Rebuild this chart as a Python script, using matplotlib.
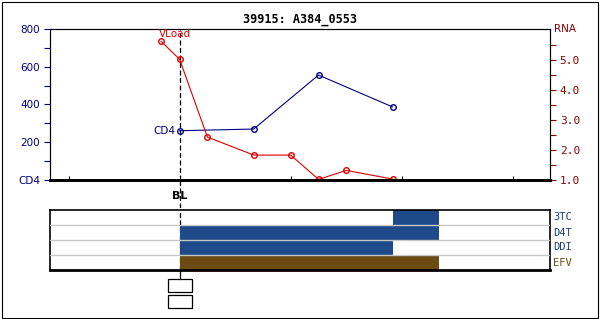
import numpy as np
import matplotlib
matplotlib.use('Agg')
import matplotlib.pyplot as plt
from matplotlib.patches import Rectangle

# data (x in weeks relative to baseline)
cd4_weeks = [0, 8, 15, 23]
cd4_vals = [261, 270, 556, 387]
vl_weeks = [-2, 0, 3, 8, 12, 15, 18, 23]
vl_vals = [5.62, 5.02, 2.43, 1.83, 1.83, 1.02, 1.32, 1.03]

drugs = ['3TC', 'D4T', 'DDI', 'EFV']
drug_start = [23, 0, 0, 0]
drug_stop = [28, 28, 23, 28]
drug_colors = ['#1f4a8a', '#1f4a8a', '#1f4a8a', '#6b4a14']
drug_text = ['#1f3f6f', '#1f3f6f', '#1f3f6f', '#6b4a14']

x_ticks = [-12, 0, 12, 24, 36]
cd4_ticks = [0, 200, 400, 600, 800]
cd4_labels = ['CD4', '200', '400', '600', '800']
rna_ticks = [1.0, 2.0, 3.0, 4.0, 5.0]

W, H = 600, 319
xmin, xmax = -14, 40


def px_axes(left, top, right, bottom):
    return fig.add_axes([left / W, 1 - bottom / H, (right - left) / W, (bottom - top) / H])


fig = plt.figure(figsize=(6, 3.19), dpi=100)
fig.patches.append(Rectangle((1.5 / W, 1.5 / H), (W - 3.5) / W, (H - 3) / H,
                             transform=fig.transFigure, fill=False, ec='black', lw=0.8))

fig.text(300 / W, 1 - 20 / H, '39915: A384_0553', ha='center', va='center',
         family='DejaVu Sans Mono', fontweight='bold', fontsize=8.5)

navy = '#000080'
dred = '#8b0000'
dash = (0, (4, 2))

# main panel
ax = px_axes(50, 29, 550, 180)
ax.plot(cd4_weeks, cd4_vals, color=navy, lw=0.8, marker='o', ms=4, mfc='none', mew=1)
ax.set_xlim(xmin, xmax)
ax.set_ylim(0, 800)
ax.set_yticks(cd4_ticks)
ax.set_yticklabels(cd4_labels)
ax.set_yticks(np.arange(100, 800, 200), minor=True)
ax.tick_params(axis='y', colors=navy, labelsize=7.5, length=4, width=0.8, pad=3)
ax.tick_params(axis='y', which='minor', length=4, width=0.8, colors=navy)
ax.set_xticks(x_ticks)
ax.set_xticklabels([])
ax.tick_params(axis='x', length=3, width=0.8, direction='in')
ax.spines['bottom'].set_linewidth(2)
for s in ['top', 'left', 'right']:
    ax.spines[s].set_linewidth(0.8)
ax.axvline(0, color='black', lw=0.9, ls=dash, zorder=1)
ax.text(cd4_weeks[0] - 0.5, cd4_vals[0], 'CD4', color=navy, fontsize=7.5,
        ha='right', va='center')

ax2 = ax.twinx()
ax2.plot(vl_weeks, vl_vals, color='#dd0000', lw=0.8, marker='o', ms=4, mfc='none', mew=1)
ax2.set_ylim(1.0, 6.03)
ax2.set_yticks(rna_ticks)
ax2.set_yticklabels(['%.1f' % v for v in rna_ticks], family='DejaVu Sans Mono')
ax2.set_yticks(np.arange(1.5, 6.0, 1.0), minor=True)
ax2.tick_params(axis='y', colors=dred, labelsize=8, length=4, width=0.8, pad=3)
ax2.tick_params(axis='y', which='minor', length=4, width=0.8, colors=dred)
ax2.spines['bottom'].set_linewidth(2)
ax2.text(1.008, 1.0, 'RNA', transform=ax2.transAxes, color=dred, fontsize=7.5,
         ha='left', va='center')
ax2.text(vl_weeks[0] - 0.2, 5.88, 'VLoad', color='#dd0000', fontsize=7.5,
         ha='left', va='center')

# gray band with BL label
axg = px_axes(50, 181, 550, 207.5)
axg.set_facecolor('#c8c8c8')
axg.set_xlim(xmin, xmax)
axg.set_ylim(0, 1)
axg.axvline(0, color='black', lw=0.9, ls=dash)
axg.text(0, 0.45, 'BL', ha='center', va='center', fontweight='bold', fontsize=8)
axg.set_axis_off()
axg.patch.set_visible(True)

# drug panel
axd = px_axes(50, 210, 550, 270)
axd.set_xlim(xmin, xmax)
axd.set_ylim(0, 4)
for i, d in enumerate(drugs):
    row = 3 - i
    axd.barh(row + 0.5, drug_stop[i] - drug_start[i], left=drug_start[i], height=1.0,
             color=drug_colors[i], lw=0, zorder=2)
    axd.text(1.006, (row + 0.5) / 4, d, transform=axd.transAxes, color=drug_text[i],
             fontsize=7.5, family='DejaVu Sans Mono', ha='left', va='center')
for yy in [1, 2, 3]:
    axd.axhline(yy, color='#c8c8c8', lw=1, zorder=3)
axd.axvline(0, color='black', lw=0.9, ls=dash, zorder=1)
axd.set_xticks([])
axd.set_yticks([])
for s in ['top', 'left', 'right']:
    axd.spines[s].set_linewidth(1.2)
axd.spines['bottom'].set_linewidth(2)

# baseline boxes below
axb = px_axes(50, 270, 550, 310)
axb.set_xlim(xmin, xmax)
axb.set_ylim(40, 0)
axb.plot([0, 0], [0, 9], color='black', lw=0.9)
for top in [9, 25]:
    axb.add_patch(Rectangle((-1.3, top), 2.6, 13, fill=False, ec='black', lw=0.9))
axb.set_axis_off()

fig.savefig('out.png', dpi=100)
